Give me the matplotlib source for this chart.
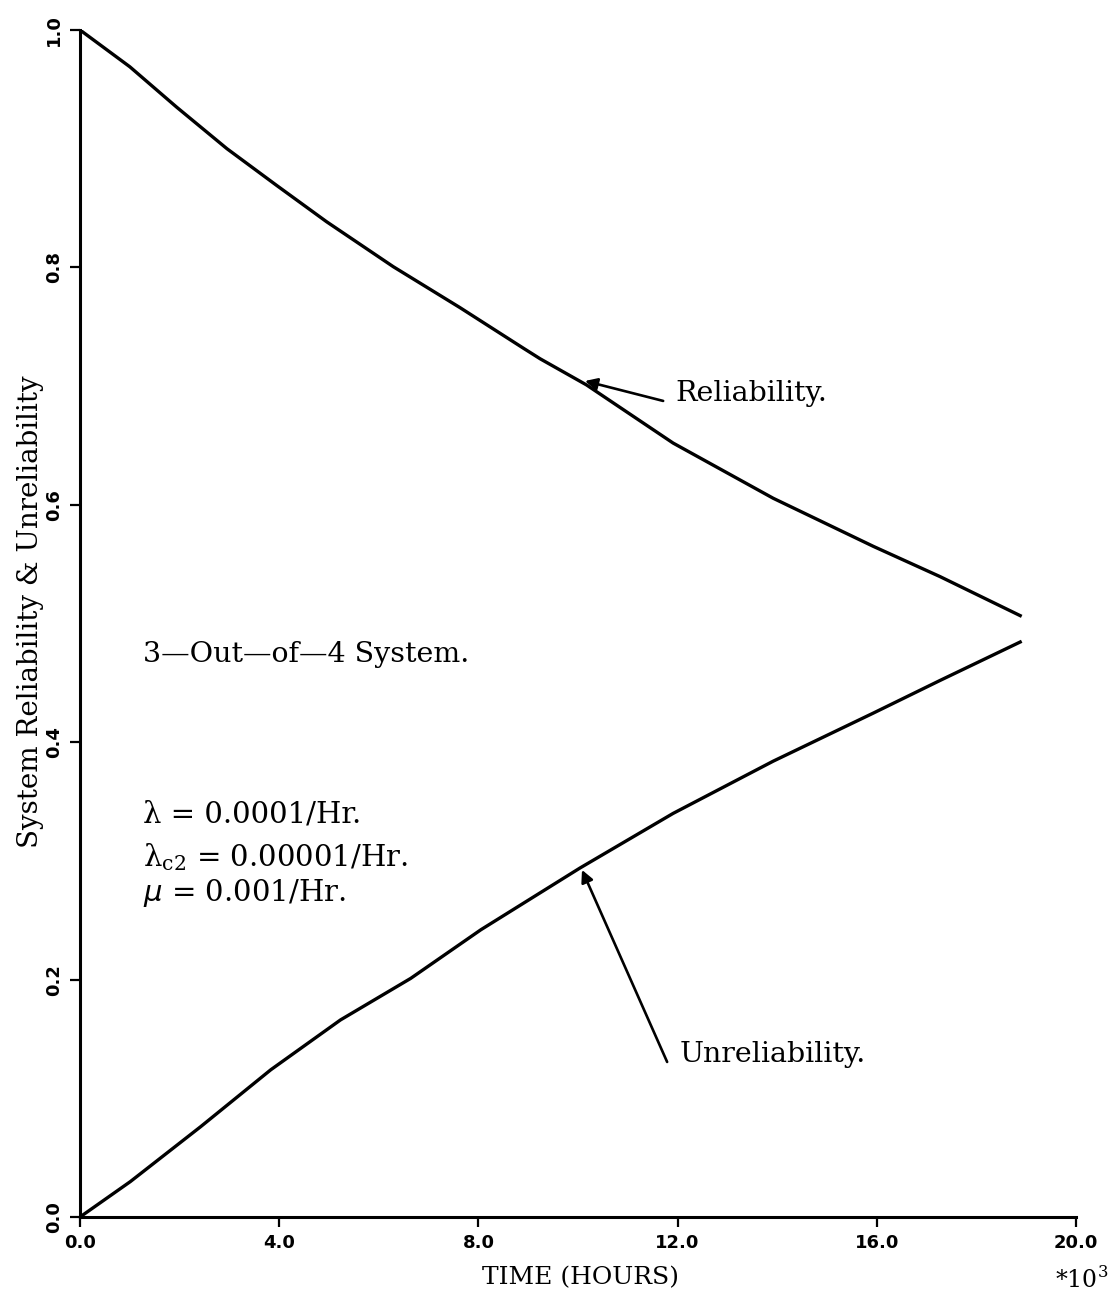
import matplotlib
matplotlib.use("Agg")
import matplotlib.pyplot as plt

# Time in thousands of hours
time_r = [0.0, 1.0, 1.94, 2.95, 3.95, 4.95, 6.29, 7.63, 8.90, 9.24, 10.17, 11.91,
          13.92, 15.93, 17.27, 18.91]
reliability = [1.0, 0.969, 0.935, 0.900, 0.869, 0.8385, 0.8006, 0.7661, 0.732, 0.723,
               0.701, 0.652, 0.6055, 0.565, 0.5395, 0.506]

time_u = [0.0, 1.01, 2.42, 3.83, 5.23, 6.64, 8.05, 10.04, 11.91, 13.92, 15.93,
          17.27, 18.91]
unreliability = [0.0, 0.0298, 0.076, 0.124, 0.166, 0.201, 0.242, 0.294, 0.340,
                 0.384, 0.4245, 0.452, 0.485]

x_ticks = [0.0, 4.0, 8.0, 12.0, 16.0, 20.0]
y_ticks = [0.0, 0.2, 0.4, 0.6, 0.8, 1.0]

serif = "DejaVu Serif"

fig = plt.figure(figsize=(11.18, 12.93), dpi=100)
ax = fig.add_axes([0.0716, 0.0588, 0.8908, 0.918])

ax.plot(time_r, reliability, color="black", lw=2.4, solid_capstyle="butt",
        solid_joinstyle="round")
ax.plot(time_u, unreliability, color="black", lw=2.4, solid_capstyle="butt",
        solid_joinstyle="round")

ax.set_xlim(0, 20)
ax.set_ylim(0, 1)
for side in ("top", "right"):
    ax.spines[side].set_visible(False)
for side in ("left", "bottom"):
    ax.spines[side].set_linewidth(2.2)

ax.set_xticks(x_ticks)
ax.set_xticklabels([f"{v:.1f}" for v in x_ticks], fontsize=13, fontweight="bold")
ax.set_yticks(y_ticks)
ax.set_yticklabels([f"{v:.1f}" for v in y_ticks], fontsize=13, fontweight="bold",
                   rotation=90, va="center")
ax.tick_params(axis="both", direction="out", length=7, width=1.6, pad=5)

ax.set_xlabel("TIME (HOURS)", fontsize=18, family=serif, va="center")
ax.xaxis.set_label_coords(0.503, -0.0514)
ax.set_ylabel("System Reliability & Unreliability", fontsize=20, family=serif,
              va="center")
ax.yaxis.set_label_coords(-0.0502, 0.51)

fig.text(1108 / 1118, 1 - 1280 / 1293, r"*10$^{\mathregular{3}}$", fontsize=17,
         family=serif, ha="right", va="center")

# Description of the system and its rates
ax.text(1.265, 0.4735, "3\u2014Out\u2014of\u20144 System.", fontsize=20.5, family=serif,
        va="center")
ax.text(1.265, 0.3387, "\u03bb = 0.0001/Hr.", fontsize=21, family=serif, va="center")
ax.text(1.265, 0.3033, "\u03bb$_{\\mathregular{c2}}$ = 0.00001/Hr.", fontsize=21,
        family=serif, va="center")
ax.text(1.265, 0.273, r"$\mu$ = 0.001/Hr.", fontsize=21, family=serif, va="center")

# Curve labels with arrows
arrow = dict(arrowstyle="-|>", color="black", lw=1.9, mutation_scale=18,
             shrinkA=0, shrinkB=0)
ax.annotate("", xy=(10.14, 0.7043), xytext=(11.71, 0.6875), arrowprops=arrow)
ax.text(11.95, 0.694, "Reliability.", fontsize=20.5, family=serif, va="center")
ax.annotate("", xy=(10.08, 0.2924), xytext=(11.79, 0.1306), arrowprops=arrow)
ax.text(12.05, 0.1373, "Unreliability.", fontsize=20.5, family=serif, va="center")

fig.savefig("out.png", dpi=100, facecolor="white")
